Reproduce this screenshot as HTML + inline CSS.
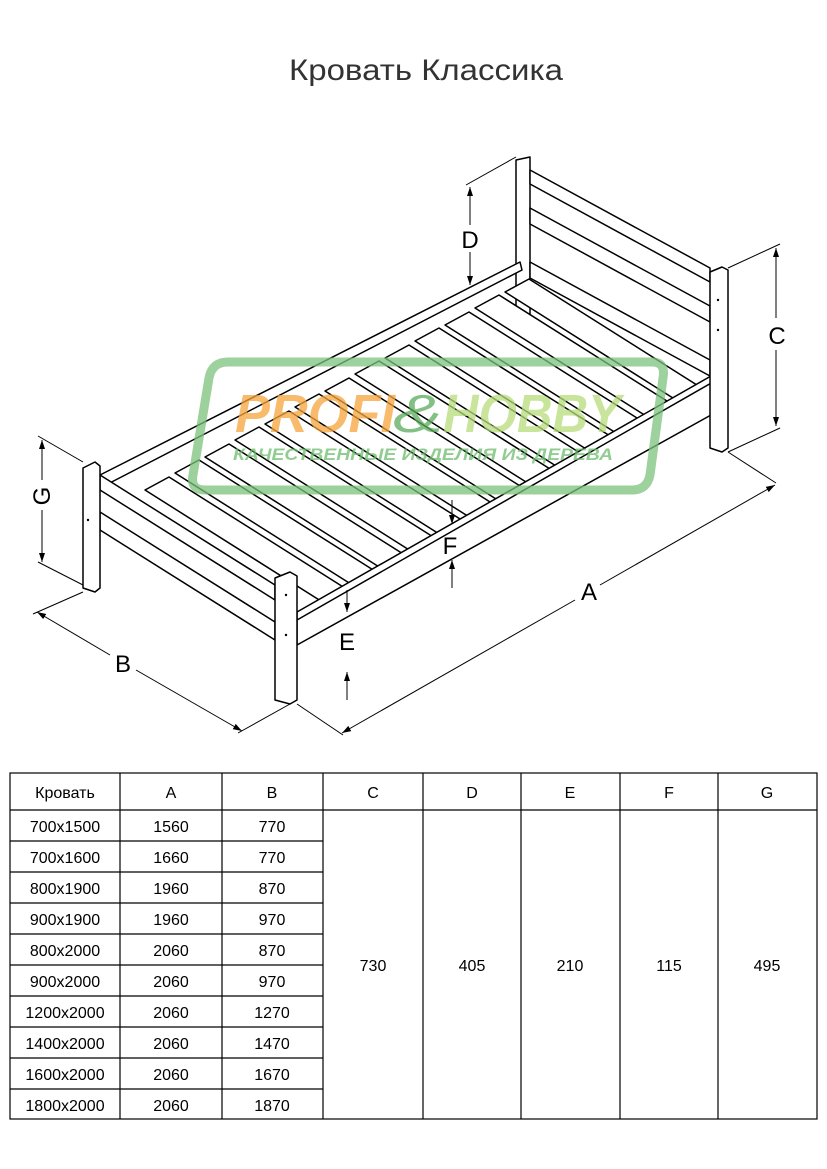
<!DOCTYPE html>
<html><head><meta charset="utf-8"><style>
body{margin:0;background:#fff;width:827px;height:1169px;overflow:hidden;font-family:"Liberation Sans",sans-serif}
svg{position:absolute;left:0;top:0}
</style></head><body>
<svg width="827" height="1169" viewBox="0 0 827 1169" xmlns="http://www.w3.org/2000/svg" font-family="Liberation Sans, sans-serif">
<defs><marker id="ar" markerWidth="10" markerHeight="8" refX="9" refY="4" orient="auto" markerUnits="userSpaceOnUse"><path d="M0,1 L9,4 L0,7 z" fill="#000"/></marker></defs>
<text x="426" y="80" font-size="30" text-anchor="middle" fill="#333" textLength="274" lengthAdjust="spacingAndGlyphs">Кровать Классика</text>
<g stroke="#000" stroke-width="1.5" fill="#fff" stroke-linejoin="round">
<polygon points="516,160 530,157 530,330 516,330"/>
<polygon points="530,170 710,268 710,282 530,184"/>
<polygon points="530,208 710,306 710,322 530,224"/>
<polygon points="530,262 710,360 710,376 530,278"/>
<polygon points="100,475 520,262 522,270 100,488"/>
<g>
<polygon points="145,490 169,477 348,590 324,603"/>
<polygon points="175,473 199,460 378,573 354,586"/>
<polygon points="205,457 229,444 408,557 384,570"/>
<polygon points="235,440 259,427 438,540 414,553"/>
<polygon points="265,424 289,411 468,524 444,537"/>
<polygon points="295,407 319,394 498,507 474,520"/>
<polygon points="325,391 349,378 528,491 504,504"/>
<polygon points="355,374 379,361 558,474 534,487"/>
<polygon points="385,358 409,345 588,458 564,471"/>
<polygon points="415,341 439,328 618,441 594,454"/>
<polygon points="445,325 469,312 648,425 624,438"/>
<polygon points="475,308 499,295 678,408 654,421"/>
<polygon points="505,292 529,279 708,392 684,405"/>
</g>
<polygon points="297,612 718,372 720,378 720,410 297,645"/>
<line x1="297" y1="620" x2="720" y2="378"/>
<polygon points="100,475 275,585 275,600 100,490"/>
<polygon points="100,512 275,622 275,640 100,530"/>
<polygon points="83,468 95,462 100,466 100,588 95,592 83,588"/>
<polygon points="275,578 290,572 297,576 297,700 290,704 275,700"/>
<polygon points="710,272 722,267 728,270 728,448 722,452 710,448"/>
</g>
<g fill="#000"><circle cx="88" cy="520" r="1.2"/><circle cx="286" cy="595" r="1.2"/><circle cx="286" cy="635" r="1.2"/><circle cx="718" cy="300" r="1.2"/><circle cx="718" cy="330" r="1.2"/></g>
<g opacity="0.75">
<path d="M228,362 L652,362 Q666,362 663,378 L650,475 Q647,490 632,490 L205,490 Q190,490 193,475 L209,378 Q212,362 228,362 Z" fill="none" stroke="#7cc27c" stroke-width="9"/>
<text x="235" y="432" font-size="54" font-weight="bold" font-style="italic" fill="#f6a53c" textLength="160" lengthAdjust="spacingAndGlyphs">PROFI</text>
<text x="393" y="432" font-size="54" font-style="italic" fill="#5aab5a" textLength="50" lengthAdjust="spacingAndGlyphs">&amp;</text>
<text x="443" y="432" font-size="54" font-weight="bold" font-style="italic" fill="#b7dc7a" textLength="178" lengthAdjust="spacingAndGlyphs">HOBBY</text>
<text x="233" y="460" font-size="17" font-weight="bold" font-style="italic" fill="#6dbb6d" textLength="380" lengthAdjust="spacingAndGlyphs">КАЧЕСТВЕННЫЕ ИЗДЕЛИЯ ИЗ ДЕРЕВА</text>
</g>
<g stroke="#000" stroke-width="1" fill="none">
<line x1="516" y1="157" x2="466" y2="185"/>
<line x1="470" y1="225" x2="470" y2="187" marker-end="url(#ar)"/>
<line x1="470" y1="252" x2="470" y2="285" marker-end="url(#ar)"/>
<line x1="728" y1="268" x2="780" y2="244"/><line x1="728" y1="452" x2="780" y2="428"/>
<line x1="776" y1="318" x2="776" y2="248" marker-end="url(#ar)"/>
<line x1="776" y1="350" x2="776" y2="426" marker-end="url(#ar)"/>
<line x1="83" y1="462" x2="38" y2="436"/><line x1="83" y1="585" x2="38" y2="562"/>
<line x1="42" y1="480" x2="42" y2="440" marker-end="url(#ar)"/>
<line x1="42" y1="510" x2="42" y2="562" marker-end="url(#ar)"/>
<line x1="83" y1="592" x2="33" y2="614"/><line x1="290" y1="704" x2="238" y2="733"/>
<line x1="110" y1="655" x2="37" y2="612" marker-end="url(#ar)"/>
<line x1="136" y1="670" x2="242" y2="731" marker-end="url(#ar)"/>
<line x1="297" y1="704" x2="343" y2="735"/><line x1="728" y1="452" x2="776" y2="483"/>
<line x1="575" y1="600" x2="342" y2="733" marker-end="url(#ar)"/>
<line x1="600" y1="585" x2="775" y2="485" marker-end="url(#ar)"/>
<line x1="347" y1="590" x2="347" y2="612" marker-end="url(#ar)"/>
<line x1="347" y1="700" x2="347" y2="672" marker-end="url(#ar)"/>
<line x1="452" y1="500" x2="452" y2="524" marker-end="url(#ar)"/>
<line x1="452" y1="588" x2="452" y2="560" marker-end="url(#ar)"/>
</g>
<g font-size="24" fill="#000" text-anchor="middle">
<text x="470" y="248">D</text><text x="777" y="344">C</text>
<text x="42" y="504" transform="rotate(-90 42 496)">G</text>
<text x="123" y="672">B</text><text x="589" y="600">A</text>
<text x="347" y="650">E</text><text x="450" y="554">F</text>
</g>
<g stroke="#000" stroke-width="1.2" fill="none">
<rect x="10" y="773" width="807" height="346"/>
<line x1="10" y1="810" x2="817" y2="810"/>
<line x1="120" y1="773" x2="120" y2="1119"/><line x1="222" y1="773" x2="222" y2="1119"/>
<line x1="323" y1="773" x2="323" y2="1119"/><line x1="423" y1="773" x2="423" y2="1119"/>
<line x1="521" y1="773" x2="521" y2="1119"/><line x1="620" y1="773" x2="620" y2="1119"/>
<line x1="718" y1="773" x2="718" y2="1119"/>
<path d="M10,841H323M10,872H323M10,903H323M10,934H323M10,965H323M10,996H323M10,1027H323M10,1058H323M10,1089H323"/>
</g>
<g font-size="16" fill="#000" text-anchor="middle">
<text x="65" y="798">Кровать</text><text x="171" y="798">A</text><text x="272" y="798">B</text><text x="373" y="798">C</text><text x="472" y="798">D</text><text x="570" y="798">E</text><text x="669" y="798">F</text><text x="767" y="798">G</text>
<text x="373" y="971">730</text><text x="472" y="971">405</text><text x="570" y="971">210</text><text x="669" y="971">115</text><text x="767" y="971">495</text>
<text x="65" y="832">700x1500</text><text x="171" y="832">1560</text><text x="272" y="832">770</text>
<text x="65" y="863">700x1600</text><text x="171" y="863">1660</text><text x="272" y="863">770</text>
<text x="65" y="894">800x1900</text><text x="171" y="894">1960</text><text x="272" y="894">870</text>
<text x="65" y="925">900x1900</text><text x="171" y="925">1960</text><text x="272" y="925">970</text>
<text x="65" y="956">800x2000</text><text x="171" y="956">2060</text><text x="272" y="956">870</text>
<text x="65" y="987">900x2000</text><text x="171" y="987">2060</text><text x="272" y="987">970</text>
<text x="65" y="1018">1200x2000</text><text x="171" y="1018">2060</text><text x="272" y="1018">1270</text>
<text x="65" y="1049">1400x2000</text><text x="171" y="1049">2060</text><text x="272" y="1049">1470</text>
<text x="65" y="1080">1600x2000</text><text x="171" y="1080">2060</text><text x="272" y="1080">1670</text>
<text x="65" y="1111">1800x2000</text><text x="171" y="1111">2060</text><text x="272" y="1111">1870</text>
</g>
</svg>
</body></html>
